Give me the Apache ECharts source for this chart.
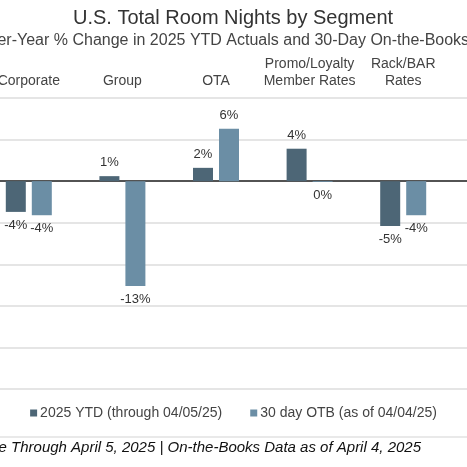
<!DOCTYPE html>
<html>
<head>
<meta charset="utf-8">
<script src="https://cdn.jsdelivr.net/npm/echarts@6/dist/echarts.min.js"></script>
<style>
  html, body { margin: 0; padding: 0; background: #fff; overflow: hidden; }
  /* chart is wider than the window: the source image is a crop */
  #main { position: absolute; left: -18px; top: 0; width: 503px; height: 467px; }
</style>
</head>
<body>
<div id="main"></div>
<script>
// segments and values (% change)
const categories = ['Corporate', 'Group', 'OTA', 'Promo/Loyalty\nMember Rates', 'Rack/BAR\nRates'];
const ytdValues = [-3.7, 0.6, 1.6, 3.9, -5.4];
const otbValues = [-4.1, -12.6, 6.3, -0.1, -4.1];
const seriesNames = ['2025 YTD (through 04/05/25)', '30 day OTB (as of 04/04/25)'];
const yMin = -25, yMax = 10, yStep = 5;

const font = '"Liberation Sans", Arial, Helvetica, sans-serif';
const ytdColor = '#4d6676';
const otbColor = '#6b8ea5';
const dx = 18; // offset of the div

const chart = echarts.init(document.getElementById('main'));

const mkData = (vals) => vals.map(v => ({
    value: v,
    label: { position: v < 0 ? 'bottom' : 'top' }
}));

const barLabel = {
    show: true,
    distance: 7,
    color: '#333',
    fontSize: 13,
    fontFamily: font,
    formatter: p => Math.round(p.value) + '%'
};

const option = {
    backgroundColor: '#fff',
    animation: false,
    textStyle: { fontFamily: font },
    title: [{
        text: 'U.S. Total Room Nights by Segment',
        left: 228 + dx, top: 3, textAlign: 'center',
        textStyle: { fontSize: 20, fontWeight: 'normal', color: '#333', fontFamily: font }
    }, {
        text: 'Year-over-Year % Change in 2025 YTD Actuals and 30-Day On-the-Books',
        left: 201 + dx, top: 28, textAlign: 'center',
        textStyle: { fontSize: 16, fontWeight: 'normal', color: '#444', fontFamily: font }
    }],
    legend: {
        bottom: 42,
        left: 'center',
        itemWidth: 7,
        itemHeight: 7,
        itemGap: 28,
        icon: 'rect',
        textStyle: { fontSize: 14, color: '#444', fontFamily: font, padding: [0, 0, 0, -2] },
        data: seriesNames
    },
    grid: [
        { left: 0, width: 468, top: 98, height: 291, containLabel: false },
        { left: 0, right: 0, top: 98, height: 291, containLabel: false }
    ],
    xAxis: [{
        gridIndex: 0,
        type: 'category',
        position: 'top',
        data: categories,
        axisLine: { show: false },
        axisTick: { show: false },
        axisLabel: { interval: 0, color: '#444', fontSize: 14, margin: 8, lineHeight: 17, fontFamily: font }
    }, {
        gridIndex: 1,
        type: 'value',
        min: 0, max: 1,
        axisLine: { show: true, onZero: true, lineStyle: { color: '#222', width: 1.5 } },
        axisTick: { show: false },
        axisLabel: { show: false },
        splitLine: { show: false }
    }],
    yAxis: [{
        gridIndex: 0,
        type: 'value',
        min: yMin, max: yMax, interval: yStep,
        axisLine: { show: false },
        axisTick: { show: false },
        axisLabel: { show: false },
        splitLine: { show: false }
    }, {
        gridIndex: 1,
        type: 'value',
        min: yMin, max: yMax, interval: yStep,
        axisLine: { show: false },
        axisTick: { show: false },
        axisLabel: { show: false },
        splitLine: { show: true, lineStyle: { color: '#dcdcdc', width: 1.5 } }
    }],
    series: [{
        name: seriesNames[0],
        type: 'bar',
        xAxisIndex: 0, yAxisIndex: 0,
        data: mkData(ytdValues),
        barWidth: 20,
        barGap: '30%',
        z: 5,
        itemStyle: { color: ytdColor },
        label: barLabel
    }, {
        name: seriesNames[1],
        type: 'bar',
        xAxisIndex: 0, yAxisIndex: 0,
        data: mkData(otbValues),
        barWidth: 20,
        barGap: '30%',
        z: 5,
        itemStyle: { color: otbColor },
        label: barLabel
    }],
    graphic: [{
        type: 'line',
        shape: { x1: 0, y1: 437, x2: 503, y2: 437 },
        style: { stroke: '#e2e2e2', lineWidth: 1.5 }
    }, {
        type: 'text',
        x: 421 + dx, y: 448,
        style: {
            text: 'Performance Through April 5, 2025 | On-the-Books Data as of April 4, 2025',
            textAlign: 'right',
            textVerticalAlign: 'middle',
            fill: '#111',
            font: 'italic 15px ' + font
        }
    }]
};

chart.setOption(option);
</script>
</body>
</html>
